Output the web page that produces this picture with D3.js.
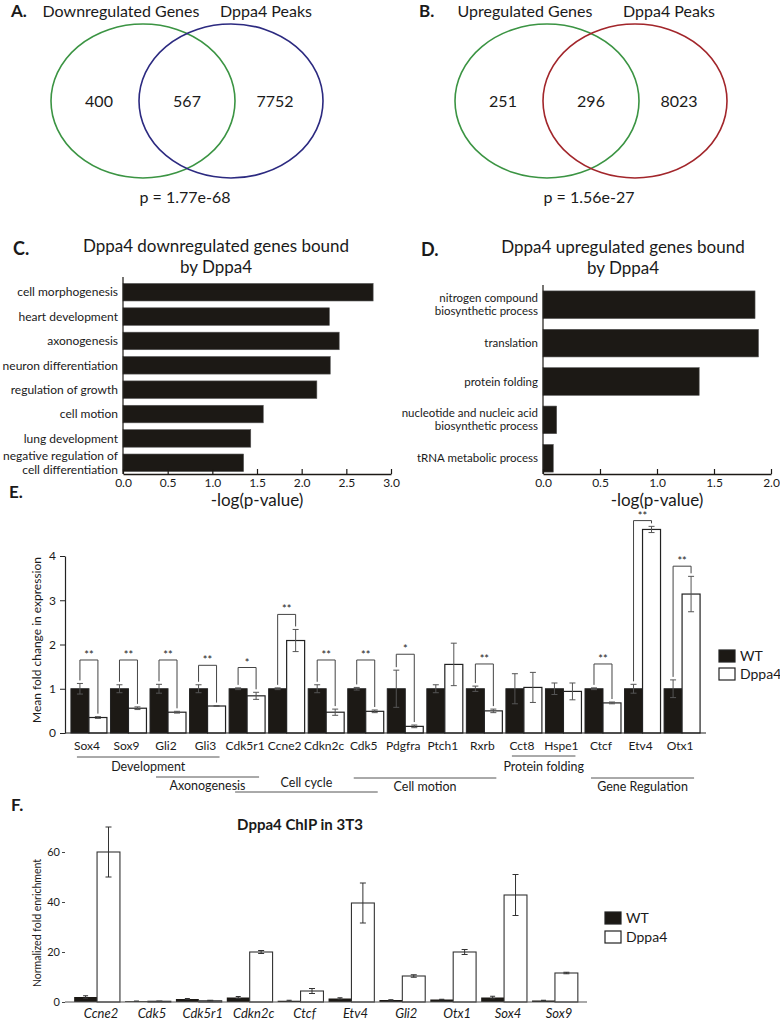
<!DOCTYPE html>
<html>
<head>
<meta charset="utf-8">
<script src="https://cdn.jsdelivr.net/npm/d3@7"></script>
<style>
    body { margin: 0; background: #fff; }
    text { font-family: Lato, "Open Sans", sans-serif; fill: #1a1a1a; }
</style>
</head>
<body>
<svg id="fig"></svg>
<script>
// ---- data ----
const vennTitlesA = ["Downregulated Genes", "Dppa4 Peaks"];
const vennCountsA = [400, 567, 7752];
const vennPA = "p = 1.77e-68";
const vennTitlesB = ["Upregulated Genes", "Dppa4 Peaks"];
const vennCountsB = [251, 296, 8023];
const vennPB = "p = 1.56e-27";

const goDownTerms = ["cell morphogenesis", "heart development", "axonogenesis", "neuron differentiation",
    "regulation of growth", "cell motion", "lung development", "negative regulation of\ncell differentiation"];
const goDownValues = [2.8, 2.31, 2.42, 2.32, 2.17, 1.57, 1.43, 1.35];
const goDownTicks = [0, 0.5, 1, 1.5, 2, 2.5, 3];

const goUpTerms = ["nitrogen compound\nbiosynthetic process", "translation", "protein folding",
    "nucleotide and nucleic acid\nbiosynthetic process", "tRNA metabolic process"];
const goUpValues = [1.86, 1.89, 1.37, 0.12, 0.09];
const goUpTicks = [0, 0.5, 1, 1.5, 2];

const exprGenes = ["Sox4", "Sox9", "Gli2", "Gli3", "Cdk5r1", "Ccne2", "Cdkn2c", "Cdk5", "Pdgfra",
    "Ptch1", "Rxrb", "Cct8", "Hspe1", "Ctcf", "Etv4", "Otx1"];
const exprWT = [1, 1, 1, 1, 1, 1, 1, 1, 1, 1, 1, 1, 1, 1, 1, 1];
const exprWTErr = [0.12, 0.09, 0.1, 0.09, 0.02, 0.02, 0.09, 0.03, 0.42, 0.09, 0.06, 0.34, 0.13, 0.02, 0.1, 0.2];
const exprKO = [0.35, 0.56, 0.47, 0.61, 0.84, 2.09, 0.47, 0.49, 0.15, 1.55, 0.5, 1.03, 0.94, 0.68, 4.6, 3.14];
const exprKOErr = [0.02, 0.03, 0.02, 0.01, 0.08, 0.25, 0.07, 0.03, 0.03, 0.48, 0.04, 0.34, 0.19, 0.02, 0.07, 0.4];
const exprSig = ["**", "**", "**", "**", "*", "**", "**", "**", "*", "", "**", "", "", "**", "**", "**"];
const exprBracket = [1.65, 1.65, 1.65, 1.53, 1.48, 2.68, 1.65, 1.65, 1.78, 0, 1.56, 0, 0, 1.56, 4.8, 3.77];
const exprTicks = [0, 1, 2, 3, 4];
const exprGroups = ["Development", "Axonogenesis", "Cell cycle", "Cell motion", "Protein folding", "Gene Regulation"];
const exprGroupSpans = [["Sox4", "Gli3"], ["Gli2", "Cdk5r1"], ["Cdk5r1", "Cdk5"], ["Cdk5", "Rxrb"], ["Cct8", "Hspe1"], ["Ctcf", "Otx1"]];

const chipGenes = ["Ccne2", "Cdk5", "Cdk5r1", "Cdkn2c", "Ctcf", "Etv4", "Gli2", "Otx1", "Sox4", "Sox9"];
const chipWT = [2.0, 0.3, 1.2, 1.8, 0.5, 1.4, 0.8, 1.0, 1.8, 0.6];
const chipWTErr = [0.5, 0.1, 0.2, 0.4, 0.2, 0.3, 0.1, 0.1, 0.5, 0.1];
const chipKO = [60, 0.3, 0.5, 20, 4.4, 39.6, 10.4, 20, 42.8, 11.6];
const chipKOErr = [10, 0.1, 0.2, 0.6, 1, 8, 0.5, 1, 8.2, 0.3];
const chipTicks = [0, 20, 40, 60];

const seriesNames = ["WT", "Dppa4"];

// ---- layout ----
const W = 780, H = 1021;
const ink = "#1c1915";
const svg = d3.select("#fig").attr("width", W).attr("height", H);
svg.append("rect").attr("width", W).attr("height", H).attr("fill", "#fff");

function letter(t, x, y, size) {
    svg.append("text").attr("x", x).attr("y", y).attr("font-size", size || 17)
        .attr("font-weight", "bold").text(t);
}

function multiLine(sel, str, x, yc, lh) {
    const lines = str.split("\n");
    const t = sel.append("text").attr("text-anchor", "end");
    lines.forEach((l, i) => {
        t.append("tspan").attr("x", x)
            .attr("y", yc + (i - (lines.length - 1) / 2) * lh)
            .attr("dy", "0.35em").text(l);
    });
    return t;
}

// ---- A / B : Venn diagrams ----
function venn(titles, counts, p, cx, colors, titleX) {
    const g = svg.append("g");
    const cy = 101, rx = 92, ry = 77, off = 44;
    [cx - off, cx + off].forEach((x, i) => {
        g.append("ellipse").attr("cx", x).attr("cy", cy).attr("rx", rx).attr("ry", ry)
            .attr("fill", "none").attr("stroke", colors[i]).attr("stroke-width", 1.6);
    });
    titles.forEach((t, i) => {
        g.append("text").attr("x", titleX[i]).attr("y", 17).attr("font-size", 16)
            .attr("text-anchor", "middle").text(t);
    });
    [cx - off - 44, cx, cx + off + 44].forEach((x, i) => {
        g.append("text").attr("x", x).attr("y", cy).attr("dy", "0.35em")
            .attr("font-size", 16).attr("text-anchor", "middle").text(counts[i]);
    });
    g.append("text").attr("x", cx - 2).attr("y", 203).attr("font-size", 16)
        .attr("text-anchor", "middle").text(p);
}
letter("A.", 11, 17);
venn(vennTitlesA, vennCountsA, vennPA, 187, ["#3b9443", "#2c2a80"], [121, 266]);
letter("B.", 419, 17);
venn(vennTitlesB, vennCountsB, vennPB, 591, ["#3b9443", "#a2262b"], [525, 669]);

// ---- C / D : GO bar charts ----
function goChart(terms, values, ticks, x0, x1, yTop, yBot, pad, labelSize) {
    const g = svg.append("g");
    const x = d3.scaleLinear().domain([0, ticks[ticks.length - 1]]).range([x0, x1]);
    const y = d3.scaleBand().domain(terms).range([yTop, yBot]).paddingInner(0.28).paddingOuter(pad);

    g.selectAll("rect.bar").data(terms).enter().append("rect")
        .attr("class", "bar")
        .attr("x", x0)
        .attr("y", d => y(d))
        .attr("width", (d, i) => x(values[i]) - x0)
        .attr("height", y.bandwidth())
        .attr("fill", ink)
        .attr("stroke", "#555")
        .attr("stroke-width", 0.6);

    const lab = g.append("g").attr("font-size", labelSize);
    terms.forEach(t => multiLine(lab, t, x0 - 5, y(t) + y.bandwidth() / 2, labelSize + 1.5));

    g.append("line").attr("x1", x0).attr("x2", x0).attr("y1", yTop - 4).attr("y2", yBot)
        .attr("stroke", ink).attr("stroke-width", 1.2);

    const ax = g.append("g").attr("transform", `translate(0,${yBot})`)
        .call(d3.axisBottom(x).tickValues(ticks).tickFormat(d3.format(".1f"))
            .tickSizeInner(-5).tickSizeOuter(0).tickPadding(4));
    ax.select(".domain").attr("stroke", ink).attr("stroke-width", 1.4);
    ax.selectAll(".tick line").attr("stroke", ink).attr("stroke-width", 1.2);
    ax.selectAll("text").attr("font-size", 12).style("font-family", "Lato, sans-serif").attr("fill", "#222");

    g.append("text").attr("x", (x0 + x1) / 2).attr("y", yBot + 32).attr("font-size", 17)
        .attr("text-anchor", "middle").text("-log(p-value)");
}

letter("C.", 13, 255, 18);
svg.append("text").attr("x", 216).attr("y", 252).attr("font-size", 17).attr("text-anchor", "middle")
    .text("Dppa4 downregulated genes bound");
svg.append("text").attr("x", 216).attr("y", 273).attr("font-size", 17).attr("text-anchor", "middle")
    .text("by Dppa4");
goChart(goDownTerms, goDownValues, goDownTicks, 123, 391, 281, 474, 0.1, 12);

letter("D.", 421, 256, 18);
svg.append("text").attr("x", 623).attr("y", 253).attr("font-size", 17).attr("text-anchor", "middle")
    .text("Dppa4 upregulated genes bound");
svg.append("text").attr("x", 623).attr("y", 274).attr("font-size", 17).attr("text-anchor", "middle")
    .text("by Dppa4");
goChart(goUpTerms, goUpValues, goUpTicks, 543, 771, 289, 474, 0.05, 11.5);

// ---- shared helpers for grouped bars ----
function errBar(g, cx, yTop, yBot, cap) {
    g.append("line").attr("x1", cx).attr("x2", cx).attr("y1", yTop).attr("y2", yBot);
    g.append("line").attr("x1", cx - cap / 2).attr("x2", cx + cap / 2).attr("y1", yTop).attr("y2", yTop);
    g.append("line").attr("x1", cx - cap / 2).attr("x2", cx + cap / 2).attr("y1", yBot).attr("y2", yBot);
}

function legend(x, y, gap, size) {
    seriesNames.forEach((s, i) => {
        svg.append("rect").attr("x", x).attr("y", y + i * gap).attr("width", 16).attr("height", 12)
            .attr("fill", i ? "#fff" : ink).attr("stroke", "#222").attr("stroke-width", 1.2);
        svg.append("text").attr("x", x + 21).attr("y", y + i * gap + 6).attr("dy", "0.35em")
            .attr("font-size", size).text(s);
    });
}

// ---- E : expression ----
letter("E.", 9, 498, 17);
{
    const g = svg.append("g");
    const x = d3.scaleBand().domain(exprGenes).range([65, 706]).paddingInner(0.09).paddingOuter(0.15);
    const y = d3.scaleLinear().domain([0, 4]).range([733, 556]);
    const bw = x.bandwidth() / 2;

    g.selectAll("rect.wt").data(exprGenes).enter().append("rect")
        .attr("x", d => x(d)).attr("y", (d, i) => y(exprWT[i]))
        .attr("width", bw).attr("height", (d, i) => y(0) - y(exprWT[i]))
        .attr("fill", ink).attr("stroke", "#222").attr("stroke-width", 1);
    g.selectAll("rect.ko").data(exprGenes).enter().append("rect")
        .attr("x", d => x(d) + bw).attr("y", (d, i) => y(exprKO[i]))
        .attr("width", bw).attr("height", (d, i) => y(0) - y(exprKO[i]))
        .attr("fill", "#fff").attr("stroke", "#222").attr("stroke-width", 1.2);

    const eb = g.append("g").attr("stroke", "#555").attr("stroke-width", 1);
    exprGenes.forEach((d, i) => {
        const c1 = x(d) + bw / 2, c2 = x(d) + bw * 1.5;
        errBar(eb, c1, y(exprWT[i] + exprWTErr[i]), y(exprWT[i] - exprWTErr[i]), 6);
        errBar(eb, c2, y(exprKO[i] + exprKOErr[i]), y(exprKO[i] - exprKOErr[i]), 6);
    });

    // significance brackets
    const br = g.append("g");
    exprGenes.forEach((d, i) => {
        if (!exprSig[i]) return;
        const c1 = x(d) + bw / 2, c2 = x(d) + bw * 1.5;
        const top = y(exprBracket[i]);
        const l1 = y(exprWT[i] + exprWTErr[i]) - 3, l2 = y(exprKO[i] + exprKOErr[i]) - 3;
        br.append("path").attr("d", `M${c1},${l1}V${top}H${c2}V${l2}`)
            .attr("fill", "none").attr("stroke", "#444").attr("stroke-width", 1);
        br.append("text").attr("x", (c1 + c2) / 2).attr("y", top - 1).attr("text-anchor", "middle")
            .attr("font-size", 11).attr("fill", "#555").text(exprSig[i]);
    });

    // axes
    const ya = g.append("g").attr("transform", "translate(65,0)")
        .call(d3.axisLeft(y).tickValues(exprTicks).tickFormat(d3.format("d"))
            .tickSize(5).tickPadding(4).tickSizeOuter(0));
    ya.select(".domain").attr("stroke", "#222").attr("stroke-width", 1.2);
    ya.selectAll(".tick line").attr("stroke", "#222");
    ya.selectAll("text").attr("font-size", 12).style("font-family", "Lato, sans-serif").attr("fill", "#222");

    g.append("line").attr("x1", 65).attr("x2", 706).attr("y1", 733).attr("y2", 733)
        .attr("stroke", "#222").attr("stroke-width", 1.2);
    g.selectAll("text.gene").data(exprGenes).enter().append("text")
        .attr("x", d => x(d) + x.bandwidth() / 2 - 2).attr("y", 746).attr("dy", "0.35em")
        .attr("text-anchor", "middle").attr("font-size", 12).text(d => d);

    svg.append("text").attr("transform", "translate(37,640) rotate(-90)")
        .attr("text-anchor", "middle").attr("dy", "0.35em").attr("font-size", 12)
        .text("Mean fold change in expression");

    // category groups under the axis
    const lineY = [757, 777, 792, 778, 756, 778];
    const labelY = [767, 786, 783, 787, 767, 787];
    exprGroups.forEach((name, i) => {
        const [a, b] = exprGroupSpans[i];
        const xa = x(a) + 6, xb = x(b) + x.bandwidth() - 6;
        g.append("line").attr("x1", xa).attr("x2", xb).attr("y1", lineY[i]).attr("y2", lineY[i])
            .attr("stroke", "#555").attr("stroke-width", 1);
        g.append("text").attr("x", (xa + xb) / 2).attr("y", labelY[i]).attr("dy", "0.35em")
            .attr("text-anchor", "middle").attr("font-size", 12.5).text(name);
    });

    legend(719, 650, 18, 14);
}

// ---- F : ChIP ----
letter("F.", 11, 811, 17);
{
    const g = svg.append("g");
    svg.append("text").attr("x", 300).attr("y", 830).attr("font-size", 15).attr("font-weight", "bold")
        .attr("text-anchor", "middle").text("Dppa4 ChIP in 3T3");
    const x = d3.scaleBand().domain(chipGenes).range([65, 587]).paddingInner(0.1).paddingOuter(0.18);
    const y = d3.scaleLinear().domain([0, 60]).range([1002, 852]);
    const bw = x.bandwidth() / 2;

    g.selectAll("rect.wt").data(chipGenes).enter().append("rect")
        .attr("x", d => x(d)).attr("y", (d, i) => y(chipWT[i]))
        .attr("width", bw).attr("height", (d, i) => y(0) - y(chipWT[i]))
        .attr("fill", ink);
    g.selectAll("rect.ko").data(chipGenes).enter().append("rect")
        .attr("x", d => x(d) + bw).attr("y", (d, i) => y(chipKO[i]))
        .attr("width", bw).attr("height", (d, i) => y(0) - y(chipKO[i]))
        .attr("fill", "#fff").attr("stroke", "#333").attr("stroke-width", 1.1);

    const eb = g.append("g").attr("stroke", "#333").attr("stroke-width", 1);
    chipGenes.forEach((d, i) => {
        errBar(eb, x(d) + bw / 2, y(chipWT[i] + chipWTErr[i]), y(chipWT[i] - chipWTErr[i]), 5);
        errBar(eb, x(d) + bw * 1.5, y(chipKO[i] + chipKOErr[i]), y(chipKO[i] - chipKOErr[i]), 6);
    });

    const ya = g.append("g").attr("transform", "translate(65,0)")
        .call(d3.axisLeft(y).tickValues(chipTicks).tickSize(3).tickPadding(2).tickSizeOuter(0));
    ya.select(".domain").remove();
    ya.selectAll(".tick line").attr("stroke", "#444");
    ya.selectAll("text").attr("font-size", 11).style("font-family", "Lato, sans-serif").attr("fill", "#333");

    g.append("line").attr("x1", 65).attr("x2", 587).attr("y1", 1002).attr("y2", 1002)
        .attr("stroke", "#555").attr("stroke-width", 1.2);
    g.selectAll("text.gene").data(chipGenes).enter().append("text")
        .attr("x", d => x(d) + x.bandwidth() / 2 + 4).attr("y", 1013).attr("dy", "0.35em")
        .attr("text-anchor", "middle").attr("font-size", 13).attr("font-style", "italic").text(d => d);

    svg.append("text").attr("transform", "translate(37,923) rotate(-90)")
        .attr("text-anchor", "middle").attr("dy", "0.35em").attr("font-size", 10.5)
        .text("Normalized fold enrichment");

    legend(605, 912, 19, 14);
}
</script>
</body>
</html>
